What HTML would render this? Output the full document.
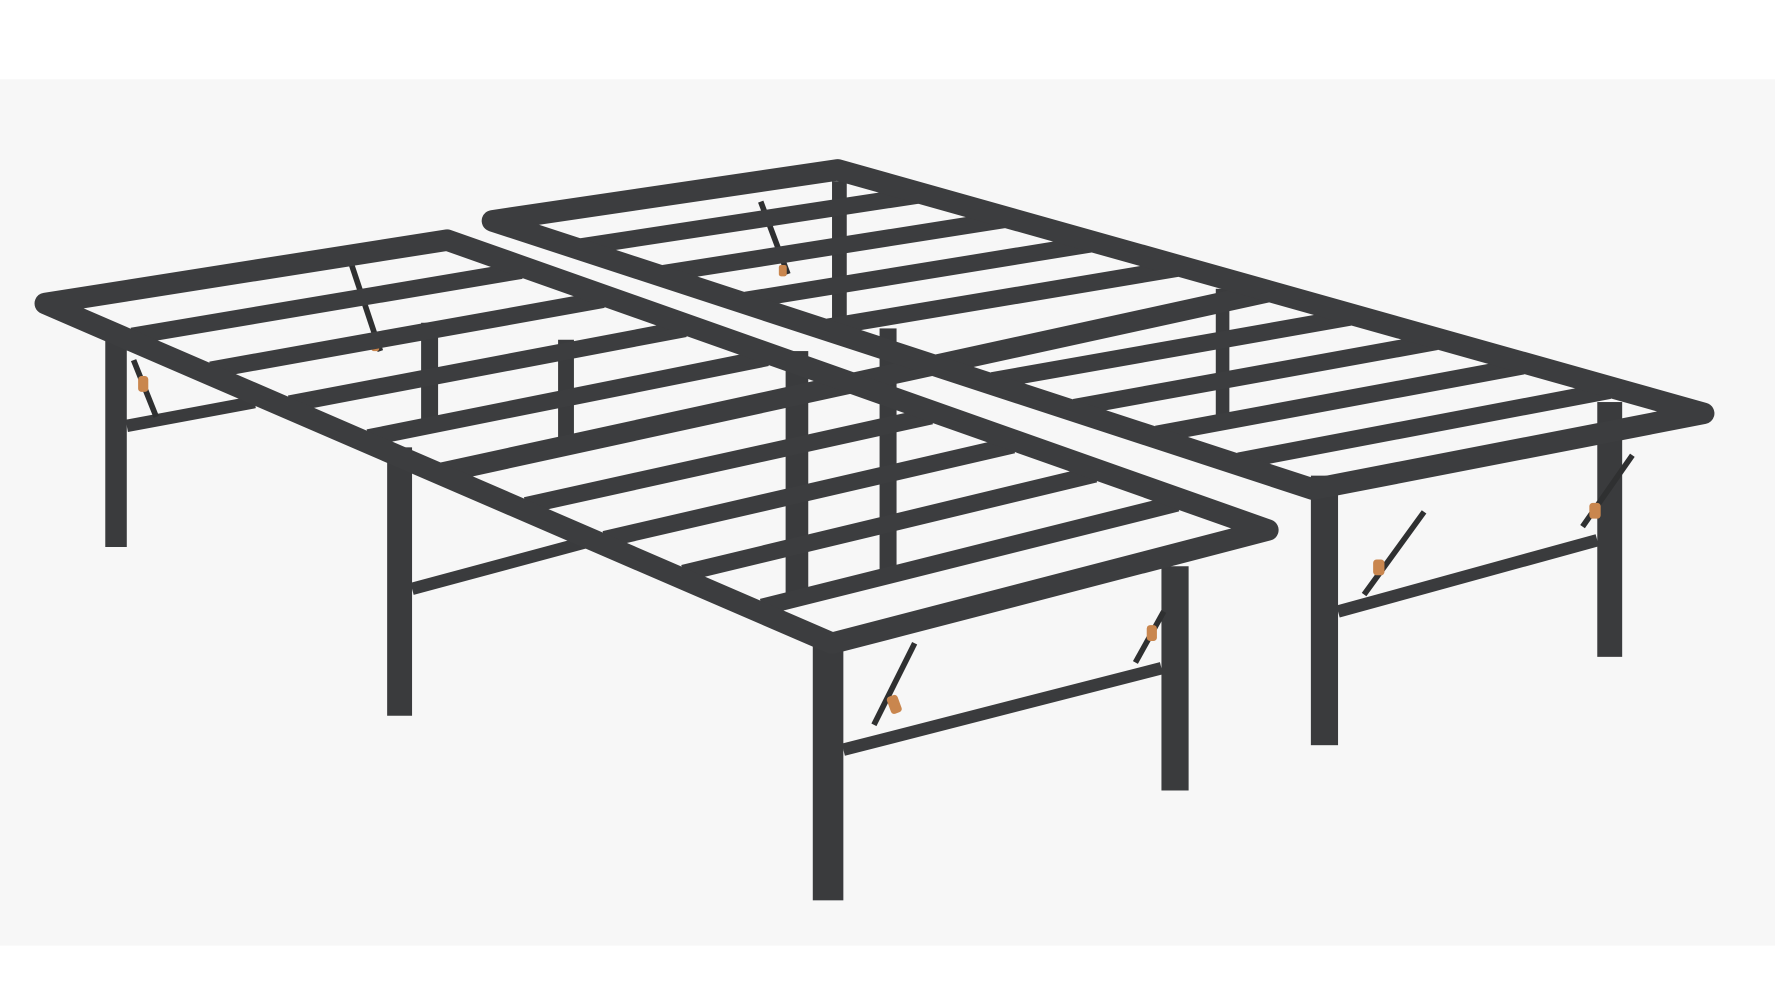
<!DOCTYPE html>
<html><head><meta charset="utf-8"><style>
html,body{margin:0;padding:0;background:#fff;width:1775px;height:1000px;overflow:hidden}
svg{display:block}
</style></head><body>
<svg id="s" width="1775" height="1000" viewBox="0 0 1568 883" preserveAspectRatio="none" xmlns="http://www.w3.org/2000/svg">
<rect x="0" y="0" width="1568" height="883" fill="#ffffff"/>
<rect x="0" y="70" width="1568" height="765" fill="#f7f7f7"/>
<g id="legs" fill="#3a3b3d">
<rect x="372" y="285" width="15" height="88"/>
<rect x="493" y="300" width="14" height="98"/>
<rect x="735" y="160" width="13" height="135"/>
<rect x="694" y="310" width="20" height="215"/>
<rect x="777" y="290" width="15" height="215"/>
<rect x="1074" y="255" width="12" height="120"/>
<rect x="93" y="295" width="19" height="188"/>
<rect x="342" y="395" width="22" height="237"/>
<rect x="718" y="565" width="27" height="230"/>
<rect x="1026" y="500" width="24" height="198"/>
<rect x="1158" y="420" width="24" height="238"/>
<rect x="1411" y="355" width="22" height="225"/>
</g>
<g stroke="#3a3b3d" stroke-width="11" stroke-linecap="butt">
<line x1="112" y1="376" x2="225" y2="355"/>
<line x1="364" y1="520" x2="520" y2="478"/>
<line x1="745" y1="662" x2="1026" y2="590"/>
<line x1="1182" y1="540" x2="1411" y2="477"/>
</g>
<g stroke="#2f3031" stroke-width="5">
<line x1="118" y1="318" x2="138" y2="368"/>
<line x1="808" y1="568" x2="772" y2="640"/>
<line x1="1028" y1="540" x2="1003" y2="585"/>
<line x1="1258" y1="452" x2="1205" y2="525"/>
<line x1="1442" y1="402" x2="1398" y2="465"/>
<line x1="310" y1="232" x2="336" y2="310"/>
<line x1="672" y1="178" x2="696" y2="242"/>
</g>
<g fill="#c9864e">
<rect x="122" y="332" width="9" height="14" rx="3"/>
<rect x="785" y="614" width="10" height="16" rx="3" transform="rotate(-20 790 622)"/>
<rect x="1013" y="552" width="9" height="14" rx="3"/>
<rect x="1213" y="494" width="10" height="14" rx="3"/>
<rect x="1404" y="444" width="10" height="14" rx="3"/>
<rect x="328" y="300" width="7" height="10" rx="2"/>
<rect x="688" y="234" width="7" height="10" rx="2"/>
</g>
<g id="frame" fill="none" stroke="#3c3d3f" stroke-linejoin="round" stroke-linecap="butt"></g>
</svg>
<script>
(function(){
var NS="http://www.w3.org/2000/svg";
var g=document.getElementById("frame");
function q(c,u,v){
 return [(1-u)*(1-v)*c[0][0]+u*(1-v)*c[1][0]+u*v*c[2][0]+(1-u)*v*c[3][0],
         (1-u)*(1-v)*c[0][1]+u*(1-v)*c[1][1]+u*v*c[2][1]+(1-u)*v*c[3][1]];
}
function line(a,b,w,col){
 var l=document.createElementNS(NS,"line");
 l.setAttribute("x1",a[0]);l.setAttribute("y1",a[1]);
 l.setAttribute("x2",b[0]);l.setAttribute("y2",b[1]);
 l.setAttribute("stroke-width",w);
 if(col)l.setAttribute("stroke",col);
 g.appendChild(l);
}
function poly(c,w){
 var p=document.createElementNS(NS,"polygon");
 p.setAttribute("points",c.map(function(x){return x.join(",")}).join(" "));
 p.setAttribute("stroke-width",w);
 g.appendChild(p);
}
var Lh=[[40,268],[395,212],[1120,468],[735,568]];
var Rh=[[435,195],[740,150],[1505,365],[1160,432]];
var vs=[0.1,0.2,0.3,0.4,0.6,0.7,0.8,0.9];
[Rh,Lh].forEach(function(c){
 vs.forEach(function(v){ line(q(c,0.02,v),q(c,0.98,v),15); });
});
line(q(Lh,0,0.5),q(Rh,1,0.5),18);
poly(Rh,19);
poly(Lh,19);
})();
</script>
</body></html>
